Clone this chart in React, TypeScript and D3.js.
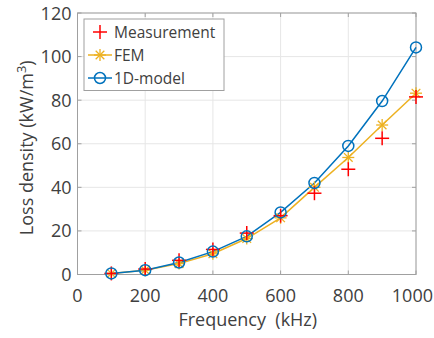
import * as d3 from "d3";

const freq = [100, 200, 300, 400, 500, 600, 700, 800, 900, 1000];
const measurement = [0.5, 2.5, 6.5, 11.5, 19, 27, 37.3, 48.3, 62.5, 81.5];
const fem = [0.5, 2, 5, 9.5, 16.5, 26, 40, 53.7, 68.6, 83.2];
const model1d = [0.5, 2, 5.5, 10.5, 17.5, 28.5, 42, 59, 79.6, 104.2];
const xTicks = [0, 200, 400, 600, 800, 1000];
const yTicks = [0, 20, 40, 60, 80, 100, 120];

const W = 434;
const H = 338;
const pad = { l: 77.5, r: 18, t: 13, b: 63.5 };
const font = "'Open Sans', 'Noto Sans', sans-serif";
const textColor = "#404040";
const red = "#ff0000";
const yellow = "#edb120";
const blue = "#0072bd";

function Plus({ x, y, c, s = 7 }: { x: number; y: number; c: string; s?: number }) {
  return (
    <g stroke={c} strokeWidth={1.5}>
      <line x1={x - s} y1={y} x2={x + s} y2={y} />
      <line x1={x} y1={y - s} x2={x} y2={y + s} />
    </g>
  );
}

function Star({ x, y, c, s = 6 }: { x: number; y: number; c: string; s?: number }) {
  const d = s * 0.72;
  return (
    <g stroke={c} strokeWidth={1.3}>
      <line x1={x - s} y1={y} x2={x + s} y2={y} />
      <line x1={x} y1={y - s} x2={x} y2={y + s} />
      <line x1={x - d} y1={y - d} x2={x + d} y2={y + d} />
      <line x1={x - d} y1={y + d} x2={x + d} y2={y - d} />
    </g>
  );
}

export default function App() {
  const x = d3.scaleLinear().domain([0, 1000]).range([pad.l, W - pad.r]);
  const y = d3.scaleLinear().domain([0, 120]).range([H - pad.b, pad.t]);
  const line = d3
    .line<number>()
    .x((_, i) => x(freq[i]))
    .y((d) => y(d));

  const x0 = x.range()[0];
  const x1 = x.range()[1];
  const y0 = y.range()[0];
  const y1 = y.range()[1];

  const lg = { x: 84, y: 19, w: 140, h: 71.5 };
  const rows = [32, 55, 78];

  return (
    <svg width={W} height={H} style={{ position: "absolute", left: 0, top: 0 }} fontFamily={font}>
      <rect width={W} height={H} fill="#fff" />
      {xTicks.map((t) => (
        <line key={"gx" + t} x1={x(t)} x2={x(t)} y1={y0} y2={y1} stroke="#e6e6e6" strokeWidth={1} />
      ))}
      {yTicks.map((t) => (
        <line key={"gy" + t} x1={x0} x2={x1} y1={y(t)} y2={y(t)} stroke="#e6e6e6" strokeWidth={1} />
      ))}
      <rect x={x0} y={y1} width={x1 - x0} height={y0 - y1} fill="none" stroke="#a0a0a0" strokeWidth={1} />
      {xTicks.map((t, i) => {
        const last = i === xTicks.length - 1;
        return (
          <g key={"tx" + t}>
            <line x1={x(t)} x2={x(t)} y1={y0} y2={y0 - 4} stroke="#a0a0a0" />
            <line x1={x(t)} x2={x(t)} y1={y1} y2={y1 + 4} stroke="#a0a0a0" />
            <text
              x={last ? W - 1 : x(t)}
              y={y0 + 27}
              textAnchor={last ? "end" : "middle"}
              fontSize={18}
              fill={textColor}
            >
              {t}
            </text>
          </g>
        );
      })}
      {yTicks.map((t) => (
        <g key={"ty" + t}>
          <line x1={x0} x2={x0 + 4} y1={y(t)} y2={y(t)} stroke="#a0a0a0" />
          <line x1={x1} x2={x1 - 4} y1={y(t)} y2={y(t)} stroke="#a0a0a0" />
          <text x={x0 - 6} y={y(t) + 6.5} textAnchor="end" fontSize={18} fill={textColor}>
            {t}
          </text>
        </g>
      ))}
      <text x={(x0 + x1) / 2 + 1} y={H - 12} textAnchor="middle" fontSize={18} fill={textColor}>
        Frequency{"\u00a0\u00a0"}(kHz)
      </text>
      <text
        transform={`translate(33,${(y0 + y1) / 2 + 4}) rotate(-90)`}
        textAnchor="middle"
        fontSize={18}
        fill={textColor}
      >
        Loss density (kW/m
        <tspan dy={-7} fontSize={13}>3</tspan>
        <tspan dy={7}>)</tspan>
      </text>

      <path d={line(fem) ?? ""} fill="none" stroke={yellow} strokeWidth={1.5} />
      <path d={line(model1d) ?? ""} fill="none" stroke={blue} strokeWidth={1.5} />
      {fem.map((v, i) => (
        <Star key={"f" + i} x={x(freq[i])} y={y(v)} c={yellow} />
      ))}
      {measurement.map((v, i) => (
        <Plus key={"m" + i} x={x(freq[i])} y={y(v)} c={red} />
      ))}
      {model1d.map((v, i) => (
        <circle key={"o" + i} cx={x(freq[i])} cy={y(v)} r={5.5} fill="none" stroke={blue} strokeWidth={1.5} />
      ))}

      <rect x={lg.x} y={lg.y} width={lg.w} height={lg.h} fill="#fff" stroke="#a0a0a0" strokeWidth={1} />
      <Plus x={100} y={rows[0]} c={red} />
      <line x1={88} x2={112} y1={rows[1]} y2={rows[1]} stroke={yellow} strokeWidth={1.5} />
      <Star x={100} y={rows[1]} c={yellow} />
      <line x1={88} x2={112} y1={rows[2]} y2={rows[2]} stroke={blue} strokeWidth={1.5} />
      <circle cx={100} cy={rows[2]} r={5.5} fill="none" stroke={blue} strokeWidth={1.5} />
      {["Measurement", "FEM", "1D-model"].map((s, i) => (
        <text key={s} x={114} y={rows[i] + 5.5} fontSize={15.5} fill={textColor}>
          {s}
        </text>
      ))}
    </svg>
  );
}
